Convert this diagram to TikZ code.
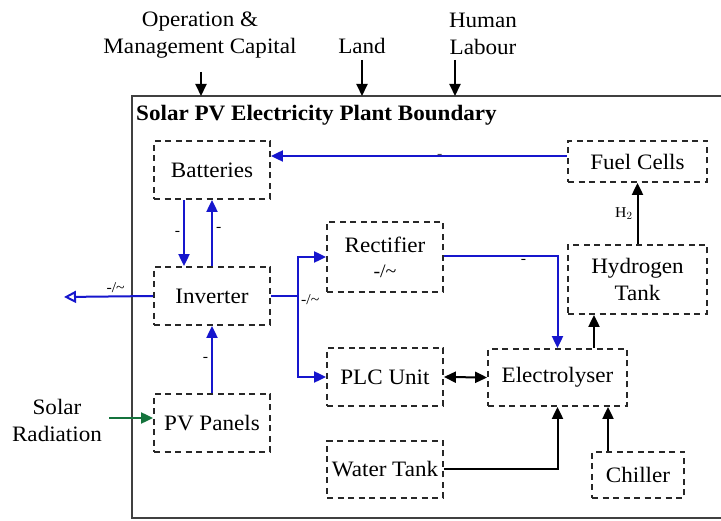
\documentclass[tikz,border=0pt]{standalone}
\usepackage{fontspec}
\setmainfont{Liberation Serif}[FakeStretch=1.05]
\usetikzlibrary{arrows.meta}
\definecolor{flowblue}{RGB}{22,22,205}
\definecolor{solgreen}{RGB}{20,115,60}
\definecolor{boxgrey}{RGB}{40,40,40}
\begin{document}
\begin{tikzpicture}[x=1pt,y=-1pt,
  every node/.style={font=\rmfamily\fontsize{22}{27}\selectfont},
  unit/.style={draw=boxgrey, dash pattern=on 6pt off 4.5pt, line width=1.8pt, inner sep=0pt, align=center, rectangle},
  tipb/.style={-{Triangle[length=12pt,width=11pt]}},
  blue flow/.style={draw=flowblue, line width=2pt, tipb},
  blue line/.style={draw=flowblue, line width=2pt},
  black flow/.style={draw=black, line width=2pt, tipb},
  small/.style={font=\rmfamily\fontsize{15}{17}\selectfont, inner sep=1pt}
]
\useasboundingbox (0,0) rectangle (721,521);
\fill[white] (0,0) rectangle (721,521);

% boundary
\draw[draw=black!75, line width=2pt] (132,96) rectangle (724,518);
\node[anchor=west, font=\rmfamily\bfseries\fontsize{22}{25}\selectfont, inner sep=0pt] (title) at (136,115) {Solar PV Electricity Plant Boundary};
\coordinate (btop) at (132,96);

% outside labels
\node[align=center] (oplbl) at (200,35) {Operation \&\\Management Capital};
\node (landlbl) at (362,46) {Land};
\node[align=center] (humlbl) at (483,34) {Human\\Labour};
\node[align=center] (sollbl) at (57,420) {Solar\\Radiation};

% units
\node[unit, minimum width=116pt, minimum height=58pt] (bat) at (212,170) {Batteries};
\node[unit, minimum width=139pt, minimum height=41pt] (fuel) at (637.5,161.5) {Fuel Cells};
\node[unit, minimum width=116pt, minimum height=70pt] (rect) at (385,257) {Rectifier\\[-2pt]{\fontsize{19}{22}\selectfont -/\textasciitilde}};
\node[unit, minimum width=139pt, minimum height=69pt] (htank) at (637.5,279.5) {Hydrogen\\Tank};
\node[unit, minimum width=116pt, minimum height=58pt] (inv) at (212,296) {Inverter};
\node[unit, minimum width=116pt, minimum height=58pt] (plc) at (385,377) {PLC Unit};
\node[unit, minimum width=139pt, minimum height=57pt] (elec) at (557.5,377.5) {Electrolyser};
\node[unit, minimum width=116pt, minimum height=58pt] (pv) at (212,423) {PV Panels};
\node[unit, minimum width=116pt, minimum height=57pt] (water) at (385,469.5) {Water Tank};
\node[unit, minimum width=92pt, minimum height=46pt] (chill) at (638,475) {Chiller};

% helper coordinates
\coordinate (opstart) at (201,72);
\coordinate (landstart) at (362,60);
\coordinate (humstart) at (455,60);
\coordinate (sunstart) at (109,418);
\coordinate (outend) at (64,297);
\coordinate (jn) at (298,296);
\coordinate (fcw) at ([yshift=5.5pt]fuel.west);
\coordinate (xdown) at (184,0);
\coordinate (xh) at (594,0);
\coordinate (xc) at (608,0);

% top inputs
\draw[black flow] (opstart) -- (opstart |- btop);
\draw[black flow] (landstart) -- (landstart |- btop);
\draw[black flow] (humstart) -- (humstart |- btop);

% solar radiation
\draw[draw=solgreen, line width=2pt, -{Triangle[length=12pt,width=11pt]}] (sunstart) -- (sunstart -| pv.west);

% electricity flows
\draw[blue flow] (fcw) -- (fcw -| bat.east) node[pos=0.43, small, text=black!70, inner sep=0pt] {-};
\draw[blue flow] (bat.south -| xdown) -- (inv.north -| xdown) node[midway, small, left=2pt] {-};
\draw[blue flow] (inv.north) -- (bat.south) node[pos=0.55, small, right=2pt] {-};
\draw[blue flow] (pv.north) -- (inv.south) node[midway, small, left=2pt] {-};
\draw[draw=flowblue, line width=2pt, -{Triangle[open,length=12pt,width=12pt,fill=white]}] (inv.west) -- (outend)
  node[pos=0.42, above=2pt, small] {-/\textasciitilde};
\draw[blue line] (inv.east) -- (jn);
\node[small, anchor=north west] at ([xshift=2pt,yshift=3pt]jn) {-/\textasciitilde};
\draw[blue flow] (jn) |- (rect.west);
\draw[blue flow] (jn) |- (plc.west);
\draw[blue flow] ([yshift=1pt]rect.east) -| (elec.north) node[pos=0.35, below=1pt, small] {-};

% material flows
\draw[draw=black, line width=2pt, {Triangle[length=12pt,width=11pt]}-{Triangle[length=12pt,width=11pt]}] (plc.east) -- (elec.west);
\draw[black flow] (water.east) -| (elec.south);
\draw[black flow] (chill.north -| xc) -- (elec.south -| xc);
\draw[black flow] (elec.north -| xh) -- (htank.south -| xh);
\draw[black flow] (htank.north) -- (fuel.south) node[midway, left=3pt, small] {H$_2$};
\end{tikzpicture}
\end{document}
